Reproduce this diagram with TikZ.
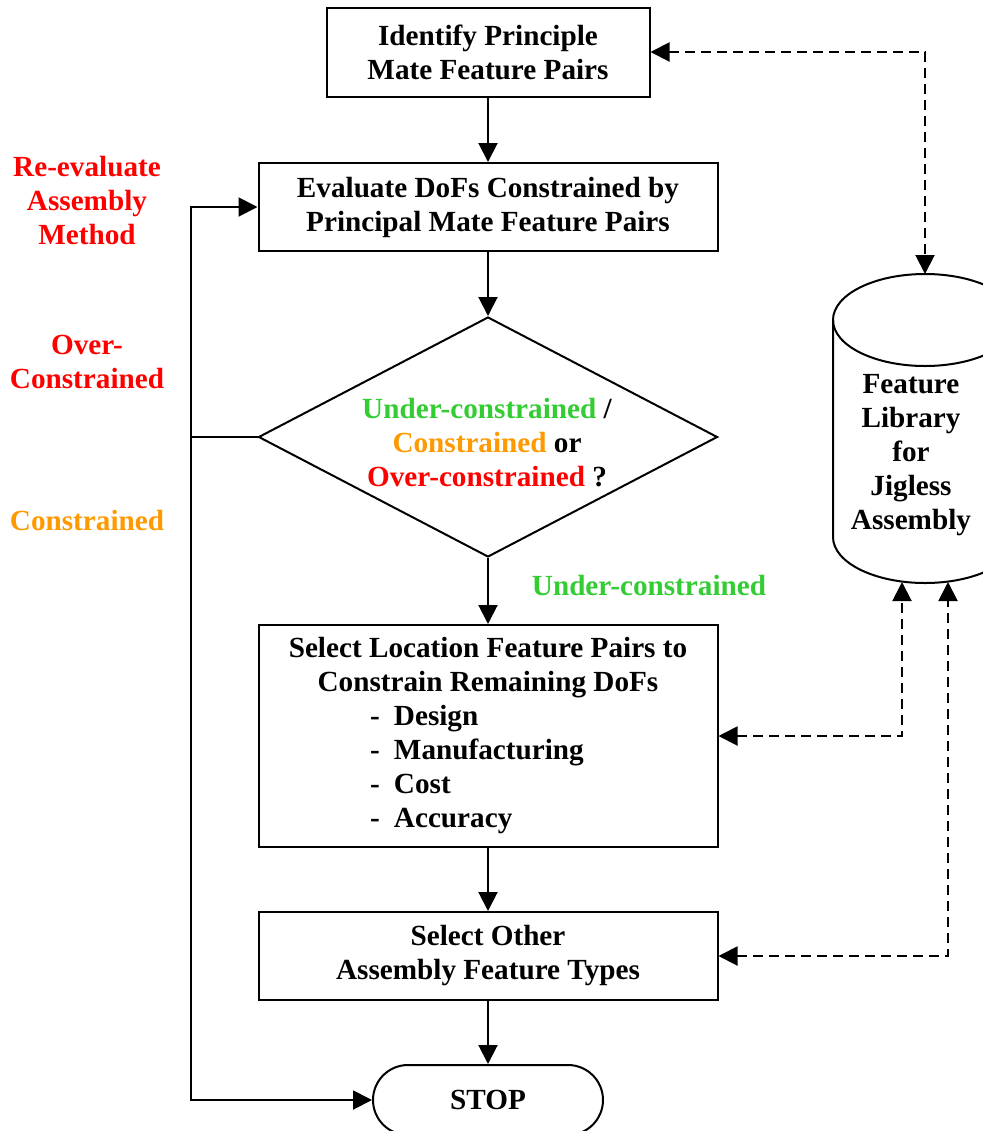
\documentclass[tikz,border=0pt]{standalone}
\usepackage{fontspec}
\setmainfont{Liberation Serif}
\usetikzlibrary{arrows.meta,shapes.geometric}
\definecolor{undc}{RGB}{51,204,51}
\definecolor{conc}{RGB}{255,153,0}
\definecolor{ovrc}{RGB}{255,0,0}
\newcommand{\crit}[1]{\makebox[118pt][l]{\makebox[12pt][l]{-}#1}}

\begin{document}
\begin{tikzpicture}[
    x=0.5pt, y=-0.5pt,
    >={Triangle[length=9.5pt,width=9.5pt]},
    every node/.style={font=\fontsize{14.6}{17}\selectfont\bfseries, align=center, inner sep=0pt},
    box/.style={draw, line width=1pt},
    decision/.style={draw, diamond, line width=1pt, minimum width=229.5pt, minimum height=120pt},
    term/.style={draw, line width=1pt, rounded corners=17.5pt, minimum width=115pt, minimum height=35pt},
    flow/.style={line width=1pt},
    link/.style={line width=1pt, dash pattern=on 5pt off 3pt},
  ]
  \useasboundingbox (0,0) rectangle (983,1131);

  \node[box, minimum width=161.5pt, minimum height=44.5pt] (ident) at (488,52)
    {Identify Principle\\Mate Feature Pairs};
  \node[box, minimum width=229.5pt, minimum height=44pt] (eval) at (488,207)
    {Evaluate DoFs Constrained by\\Principal Mate Feature Pairs};
  \node[decision] (check) at (488,437) {};
  \node (checktxt) at (487,443)
    {\textcolor{undc}{Under-constrained} /\\\textcolor{conc}{Constrained} or\\\textcolor{ovrc}{Over-constrained} ?};
  \node[box, minimum width=229.5pt, minimum height=111pt] (locate) at (488,736)
    {Select Location Feature Pairs to\\Constrain Remaining DoFs\\\crit{Design}\\\crit{Manufacturing}\\\crit{Cost}\\\crit{Accuracy}};
  \node[box, minimum width=229.5pt, minimum height=44pt] (other) at (488,956)
    {Select Other\\Assembly Feature Types};
  \node[term] (stop) at (488,1100) {STOP};

  % feature library
  \draw[flow] (833,320) -- (833,537) arc[start angle=180, end angle=360, x radius=46pt, y radius=23pt] -- (1017,320);
  \draw[flow] (925,320) ellipse [x radius=46pt, y radius=23pt];
  \node (lib) at (911,455) {Feature\\Library\\for\\Jigless\\Assembly};
  \coordinate (libtop) at (925,274);
  \coordinate (libl) at (902,582);
  \coordinate (libr) at (948,582);

  % labels
  \node[text=ovrc] (reeval) at (87,201) {Re-evaluate\\Assembly\\Method};
  \node[text=ovrc] (overlbl) at (87,362) {Over-\\Constrained};
  \node[text=conc] (conlbl) at (87,521) {Constrained};
  \node[text=undc] (underlbl) at (649,586) {Under-constrained};

  \draw[->,flow] (ident) -- (eval);
  \draw[->,flow] (eval) -- (check.north);
  \draw[->,flow] (check.south) -- (locate);
  \draw[->,flow] (locate) -- (other);
  \draw[->,flow] (other) -- (stop);

  \coordinate (loopb) at (191,1100);
  \draw[flow] (check.west) -- (check.west -| loopb);
  \draw[<->,flow] (eval.west) -| (loopb) -- (stop.west);

  \draw[<->,link] (ident.east) -| (libtop);
  \draw[<->,link] (locate.east) -| (libl);
  \draw[<->,link] (other.east) -| (libr);
\end{tikzpicture}
\end{document}
